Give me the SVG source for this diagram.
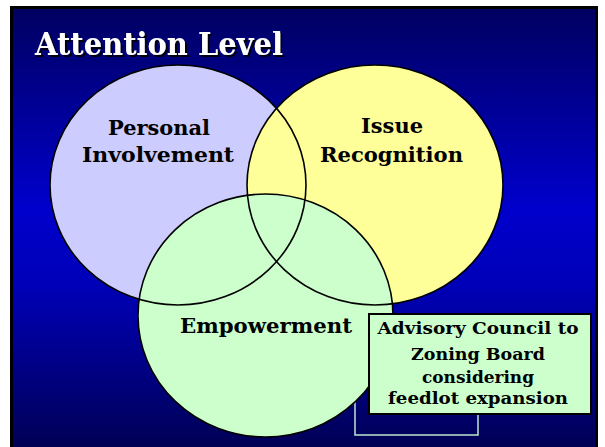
<svg xmlns="http://www.w3.org/2000/svg" width="605" height="447" viewBox="0 0 605 447">
<defs>
<linearGradient id="bg" x1="0" y1="0" x2="0" y2="1">
<stop offset="0" stop-color="#000060"/>
<stop offset="0.45" stop-color="#0000CC"/>
<stop offset="0.62" stop-color="#0000B8"/>
<stop offset="1" stop-color="#000052"/>
</linearGradient>
<filter id="sh" x="-5%" y="-20%" width="110%" height="140%">
<feDropShadow dx="2" dy="2" stdDeviation="0.6" flood-color="#000000" flood-opacity="0.9"/>
</filter>
</defs>
<style>
.lbl{font-family:"DejaVu Serif","Liberation Serif",serif;font-weight:bold;fill:#000;text-anchor:middle}
.ring{fill:none;stroke:#000;stroke-width:1.6}
</style>
<rect x="0" y="0" width="605" height="447" fill="#ffffff"/>
<rect x="11.5" y="7.5" width="585" height="445" fill="url(#bg)" stroke="#000" stroke-width="3"/>
<text x="35" y="55" font-family="DejaVu Serif, Liberation Serif, serif" font-weight="bold" font-size="31" fill="#ffffff" textLength="248" lengthAdjust="spacingAndGlyphs" filter="url(#sh)">Attention Level</text>
<rect x="355" y="330" width="123" height="105" fill="none" stroke="#bfe6cf" stroke-width="1.5"/>
<g id="personal">
<ellipse cx="178" cy="185" rx="128" ry="120" fill="#CCCCFF"/>
</g>
<g id="issue">
<ellipse cx="375" cy="185" rx="128" ry="120" fill="#FFFF99"/>
</g>
<g id="empowerment">
<ellipse cx="265.5" cy="315.5" rx="127.5" ry="121.5" fill="#CCFFCC"/>
</g>
<g id="outlines">
<ellipse class="ring" cx="178" cy="185" rx="128" ry="120"/>
<ellipse class="ring" cx="375" cy="185" rx="128" ry="120"/>
<ellipse class="ring" cx="265.5" cy="315.5" rx="127.5" ry="121.5"/>
</g>
<g id="labels">
<text class="lbl" x="159" y="135" font-size="21" textLength="102" lengthAdjust="spacingAndGlyphs">Personal</text>
<text class="lbl" x="158" y="162" font-size="21" textLength="152" lengthAdjust="spacingAndGlyphs">Involvement</text>
<text class="lbl" x="392" y="133" font-size="21" textLength="62" lengthAdjust="spacingAndGlyphs">Issue</text>
<text class="lbl" x="391.5" y="162" font-size="21" textLength="143" lengthAdjust="spacingAndGlyphs">Recognition</text>
<text class="lbl" x="266" y="333" font-size="21" textLength="172" lengthAdjust="spacingAndGlyphs">Empowerment</text>
</g>
<g id="callout">
<rect x="369" y="314" width="222" height="100" fill="#CCFFCC" stroke="#000" stroke-width="2"/>
<text class="lbl" x="478" y="334" font-size="17.5" textLength="201" lengthAdjust="spacingAndGlyphs">Advisory Council to</text>
<text class="lbl" x="478" y="360" font-size="17.5" textLength="134" lengthAdjust="spacingAndGlyphs">Zoning Board</text>
<text class="lbl" x="478" y="383" font-size="17.5" textLength="112" lengthAdjust="spacingAndGlyphs">considering</text>
<text class="lbl" x="478" y="404" font-size="17.5" textLength="180" lengthAdjust="spacingAndGlyphs">feedlot expansion</text>
</g>
</svg>
